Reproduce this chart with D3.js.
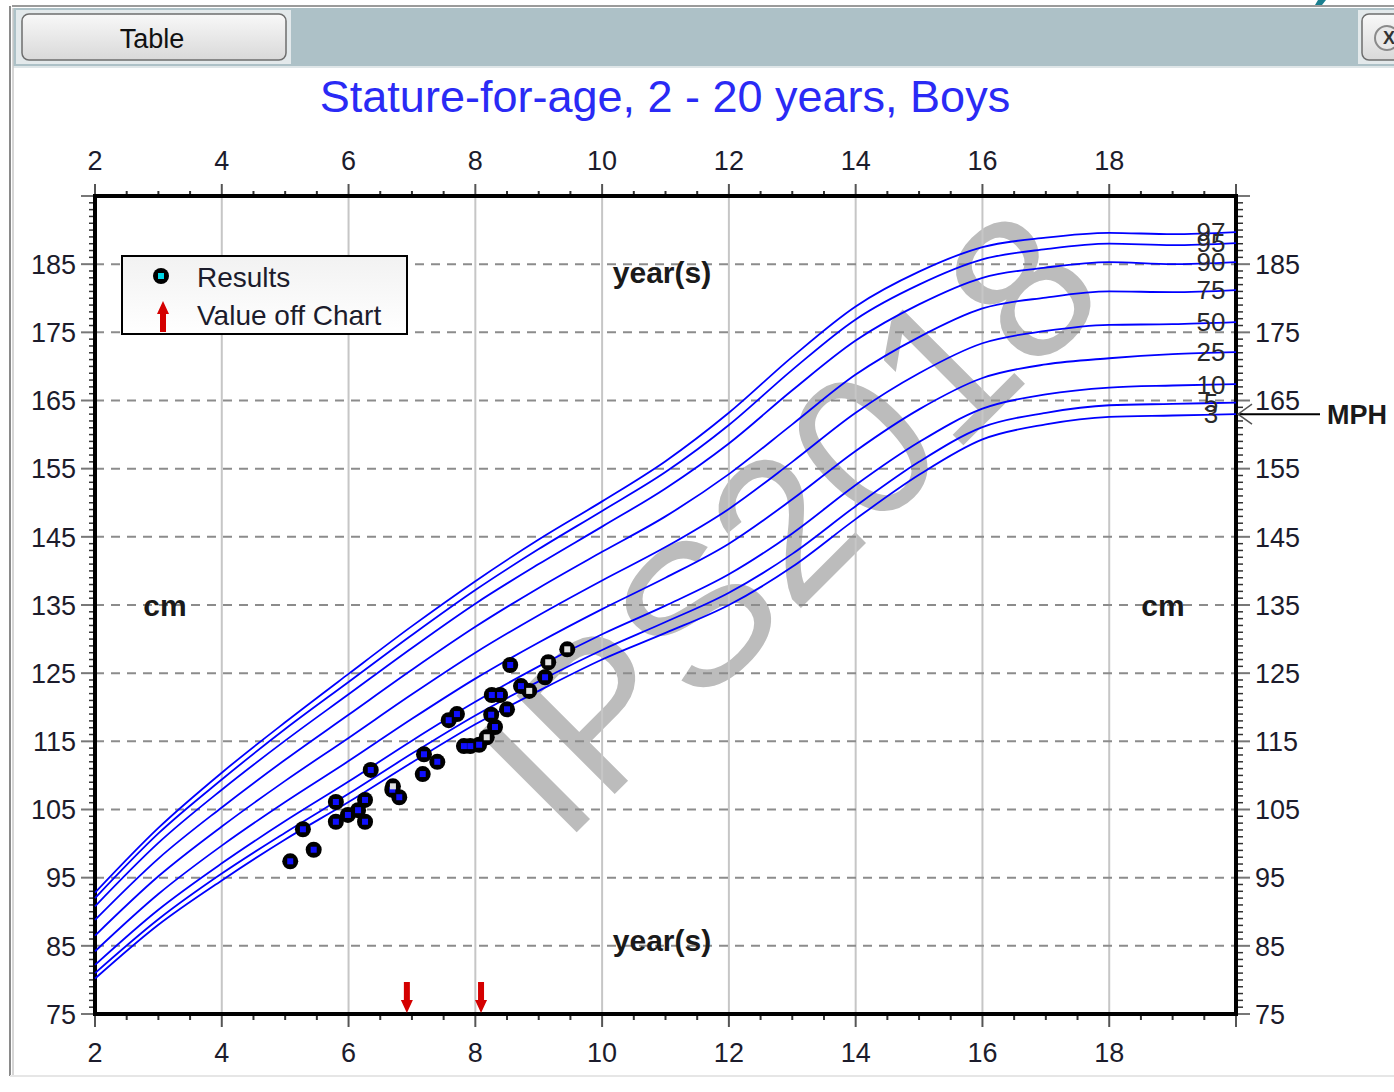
<!DOCTYPE html>
<html>
<head>
<meta charset="utf-8">
<script src="https://cdn.jsdelivr.net/npm/d3@7"></script>
<style>
  body { margin: 0; background: #fff; }
  svg { display: block; font-family: "Liberation Sans", Arial, sans-serif; }
</style>
</head>
<body>
<div class="chart"></div>
<script>
const width = 1394;
const height = 1092;

// percentile curves, CDC stature-for-age boys
const ages = [2, 3, 4, 5, 6, 7, 8, 9, 10, 11, 12, 13, 14, 15, 16, 17, 18, 19, 20];
const p3 = [80.2, 88.1, 94.6, 100.6, 106.1, 111.9, 117.5, 122.4, 127.0, 130.9, 135.0, 140.6, 147.6, 154.1, 159.3, 161.5, 162.6, 162.8, 163.0];
const p5 = [81.0, 88.9, 95.6, 101.6, 107.3, 113.2, 118.8, 123.8, 128.4, 132.5, 136.8, 142.5, 149.5, 156.0, 161.1, 163.2, 164.3, 164.5, 164.7];
const p10 = [82.2, 90.3, 97.1, 103.3, 109.1, 115.1, 120.8, 126.0, 130.7, 134.9, 139.5, 145.5, 152.6, 158.9, 163.8, 165.9, 166.9, 167.2, 167.4];
const p25 = [84.2, 92.6, 99.7, 106.1, 112.1, 118.3, 124.2, 129.5, 134.4, 139.0, 144.0, 150.5, 157.6, 163.7, 168.3, 170.3, 171.2, 171.8, 172.1];
const p50 = [86.5, 95.2, 102.5, 109.2, 115.5, 121.9, 128.0, 133.5, 138.6, 143.5, 149.1, 156.0, 163.2, 169.0, 173.4, 175.2, 176.1, 176.2, 176.5];
const p75 = [88.8, 97.8, 105.3, 112.3, 118.9, 125.5, 131.8, 137.5, 142.8, 148.0, 154.2, 161.5, 168.8, 174.3, 178.5, 180.1, 181.0, 180.9, 181.2];
const p90 = [90.8, 100.1, 107.9, 115.1, 121.9, 128.7, 135.2, 141.0, 146.5, 152.1, 158.7, 166.5, 173.8, 179.1, 183.0, 184.5, 185.3, 185.0, 185.3];
const p95 = [92.0, 101.5, 109.4, 116.8, 123.7, 130.6, 137.2, 143.2, 148.8, 154.5, 161.4, 169.5, 176.9, 182.0, 185.7, 187.2, 188.0, 187.8, 188.1];
const p97 = [92.8, 102.3, 110.4, 117.8, 124.9, 131.9, 138.5, 144.6, 150.2, 156.1, 163.2, 171.4, 178.8, 183.9, 187.5, 188.9, 189.6, 189.4, 189.7];

const percentileNames = ["3", "5", "10", "25", "50", "75", "90", "95", "97"];
const percentileSeries = [p3, p5, p10, p25, p50, p75, p90, p95, p97];

// measured results (age in years, stature in cm)
const resultAges = [5.08, 5.28, 5.45, 5.80, 5.80, 5.99, 6.15, 6.26, 6.26, 6.35, 6.69, 6.70, 6.80, 7.17, 7.19, 7.40, 7.58, 7.71, 7.82, 7.92, 8.06, 8.18, 8.31, 8.25, 8.26, 8.39, 8.50, 8.55, 8.72, 8.85, 9.10, 9.15, 9.45];
const resultHeights = [97.4, 102.1, 99.1, 106.1, 103.2, 104.2, 104.9, 106.4, 103.2, 110.8, 107.9, 108.4, 106.8, 110.2, 113.1, 112.0, 118.1, 119.0, 114.3, 114.3, 114.5, 115.6, 117.1, 118.9, 121.8, 121.8, 119.7, 126.2, 123.1, 122.4, 124.4, 126.6, 128.5];
const resultOpen = [0, 0, 0, 0, 0, 0, 0, 0, 0, 0, 0, 1, 0, 0, 0, 0, 0, 0, 0, 0, 0, 1, 0, 0, 0, 0, 0, 0, 0, 1, 0, 1, 1];

const offChartAges = [6.92, 8.09];
const mphHeight = 163.0;

const xTicks = [2, 4, 6, 8, 10, 12, 14, 16, 18];
const yTicks = [75, 85, 95, 105, 115, 125, 135, 145, 155, 165, 175, 185];

const svg = d3.select(".chart").append("svg").attr("width", width).attr("height", height);

const x = d3.scaleLinear().domain([2, 20]).range([95, 1236]);
const y = d3.scaleLinear().domain([75, 195]).range([1014, 196]);

const defs = svg.append("defs");
const btnGrad = defs.append("linearGradient").attr("id", "btnGrad").attr("x1", 0).attr("y1", 0).attr("x2", 0).attr("y2", 1);
btnGrad.append("stop").attr("offset", "0%").attr("stop-color", "#f8f8f8");
btnGrad.append("stop").attr("offset", "100%").attr("stop-color", "#d9d9d9");
const legGrad = defs.append("linearGradient").attr("id", "legGrad").attr("x1", 0).attr("y1", 0).attr("x2", 0).attr("y2", 1);
legGrad.append("stop").attr("offset", "0%").attr("stop-color", "#f2f2f2");
legGrad.append("stop").attr("offset", "100%").attr("stop-color", "#ffffff");

drawWindow();
drawWatermark();
drawGrid();
drawAxes();
drawCurves();
drawResults();
drawOffChart();
drawMph();
drawLegend();
drawLabels();

function drawWindow() {
  svg.append("line").attr("x1", 12).attr("x2", width).attr("y1", 6).attr("y2", 6)
    .attr("stroke", "#9a9a9a").attr("stroke-width", 2);
  svg.append("rect").attr("x", 13).attr("y", 8).attr("width", width - 13).attr("height", 58).attr("fill", "#adc1c7");
  svg.append("line").attr("x1", 13).attr("x2", width).attr("y1", 67).attr("y2", 67)
    .attr("stroke", "#dfe6e8").attr("stroke-width", 2);
  svg.append("path").attr("d", "M1318,0 L1326,0 L1322,5 L1315,5 Z").attr("fill", "#1a7f8f");

  // left frame
  svg.append("line").attr("x1", 10).attr("x2", 10).attr("y1", 6).attr("y2", 1076)
    .attr("stroke", "#8a8a8a").attr("stroke-width", 2);
  svg.append("line").attr("x1", 13).attr("x2", 13).attr("y1", 8).attr("y2", 1076)
    .attr("stroke", "#c8c8c8").attr("stroke-width", 1.5);
  svg.append("line").attr("x1", 10).attr("x2", width).attr("y1", 1076).attr("y2", 1076)
    .attr("stroke", "#e6e6e6").attr("stroke-width", 2);

  // Table button
  svg.append("rect").attr("x", 16).attr("y", 10).attr("width", 275).attr("height", 54).attr("fill", "#e3e9eb");
  svg.append("rect").attr("x", 22).attr("y", 14).attr("width", 264).attr("height", 46).attr("rx", 7)
    .attr("fill", "url(#btnGrad)").attr("stroke", "#6e6e6e").attr("stroke-width", 1.5);
  svg.append("text").attr("x", 152).attr("y", 38).attr("dy", "0.36em").attr("text-anchor", "middle")
    .style("font-size", "27px").attr("fill", "#111").text("Table");

  // close button (cut off at the edge)
  svg.append("rect").attr("x", 1358).attr("y", 10).attr("width", 50).attr("height", 54).attr("fill", "#e3e9eb");
  svg.append("rect").attr("x", 1362).attr("y", 14).attr("width", 50).attr("height", 46).attr("rx", 7)
    .attr("fill", "url(#btnGrad)").attr("stroke", "#6e6e6e").attr("stroke-width", 1.5);
  svg.append("circle").attr("cx", 1387).attr("cy", 38).attr("r", 12)
    .attr("fill", "#e8e8e8").attr("stroke", "#8a8a8a").attr("stroke-width", 2);
  svg.append("text").attr("x", 1389).attr("y", 38).attr("dy", "0.36em").attr("text-anchor", "middle")
    .style("font-size", "18px").style("font-weight", "bold").attr("fill", "#333").text("X");

  svg.append("text").attr("x", 665).attr("y", 112).attr("text-anchor", "middle")
    .style("font-size", "45px").attr("fill", "#2a2af5").text("Stature-for-age, 2 - 20 years, Boys");
}

function drawWatermark() {
  svg.append("text")
    .attr("transform", "translate(786,520) rotate(-45)")
    .attr("text-anchor", "middle").attr("dy", "0.36em")
    .style("font-size", "202px").attr("fill", "#bcbcbc")
    .text("IPS2018");
}

function drawGrid() {
  const g = svg.append("g");
  g.selectAll(".vgrid").data(xTicks.slice(1)).enter().append("line")
    .attr("x1", (d) => x(d)).attr("x2", (d) => x(d))
    .attr("y1", y(195)).attr("y2", y(75))
    .attr("stroke", "#c6c6c6").attr("stroke-width", 2);
  g.selectAll(".hgrid").data(yTicks.slice(1)).enter().append("line")
    .attr("x1", x(2)).attr("x2", x(20))
    .attr("y1", (d) => y(d)).attr("y2", (d) => y(d))
    .attr("stroke", "#8c8c8c").attr("stroke-width", 2).attr("stroke-dasharray", "9,7");
}

function drawAxes() {
  const g = svg.append("g").attr("fill", "none");
  const halfYears = d3.range(2, 20.01, 0.5);
  const cms = d3.range(75, 195.01, 1);

  // top and bottom ticks
  halfYears.forEach((a) => {
    let major = a % 2 == 0;
    g.append("line").attr("x1", x(a)).attr("x2", x(a))
      .attr("y1", y(195)).attr("y2", y(195) - (major ? 12 : 5))
      .attr("stroke", major ? "#555" : "#333").attr("stroke-width", 2);
    g.append("line").attr("x1", x(a)).attr("x2", x(a))
      .attr("y1", y(75)).attr("y2", y(75) + (major ? 13 : 6))
      .attr("stroke", major ? "#555" : "#333").attr("stroke-width", 2);
  });

  // left and right ticks
  cms.forEach((c) => {
    let major = (c - 75) % 10 == 0;
    g.append("line").attr("x1", x(2)).attr("x2", x(2) - (major ? 14 : 6))
      .attr("y1", y(c)).attr("y2", y(c))
      .attr("stroke", major ? "#777" : "#333").attr("stroke-width", major ? 2 : 1.5);
    g.append("line").attr("x1", x(20)).attr("x2", x(20) + (major ? 14 : 7))
      .attr("y1", y(c)).attr("y2", y(c))
      .attr("stroke", major ? "#777" : "#333").attr("stroke-width", major ? 2 : 1.5);
  });

  g.append("rect").attr("x", x(2)).attr("y", y(195))
    .attr("width", x(20) - x(2)).attr("height", y(75) - y(195))
    .attr("stroke", "#000").attr("stroke-width", 4);

  const labels = svg.append("g").style("font-size", "27px").attr("fill", "#1c1c2c");
  xTicks.forEach((a) => {
    labels.append("text").attr("x", x(a)).attr("y", 160).attr("dy", "0.36em")
      .attr("text-anchor", "middle").text(a);
    labels.append("text").attr("x", x(a)).attr("y", 1052).attr("dy", "0.36em")
      .attr("text-anchor", "middle").text(a);
  });
  yTicks.forEach((c) => {
    labels.append("text").attr("x", 76).attr("y", y(c)).attr("dy", "0.36em")
      .attr("text-anchor", "end").text(c);
    labels.append("text").attr("x", 1255).attr("y", y(c)).attr("dy", "0.36em")
      .attr("text-anchor", "start").text(c);
  });
}

function drawCurves() {
  const line = d3.line()
    .x((d) => x(d[0]))
    .y((d) => y(d[1]))
    .curve(d3.curveMonotoneX);

  percentileSeries.forEach((series, i) => {
    let pts = ages.map((a, j) => [a, series[j]]);
    svg.append("path").attr("d", line(pts))
      .attr("fill", "none").attr("stroke", "#0000ff").attr("stroke-width", 1.8);

    // the end labels crowd together at the top and bottom, as in the source chart
    svg.append("text").attr("x", 1211).attr("y", y(series[series.length - 1]))
      .attr("dy", "0.36em").attr("text-anchor", "middle")
      .style("font-size", "26px").attr("fill", "#2a2a2a")
      .text(percentileNames[i]);
  });
}

function drawResults() {
  const g = svg.append("g");
  resultAges.forEach((a, i) => {
    g.append("circle").attr("cx", x(a)).attr("cy", y(resultHeights[i])).attr("r", 8).attr("fill", "#000");
  });
  resultAges.forEach((a, i) => {
    g.append("rect").attr("x", x(a) - 3).attr("y", y(resultHeights[i]) - 3)
      .attr("width", 6).attr("height", 6)
      .attr("fill", resultOpen[i] ? "#e0e0e0" : "#1010ff");
  });
}

function arrowPath(cx, tipY, dir) {
  // dir = 1 points down, -1 points up
  let shaftEnd = tipY - dir * 13;
  let tail = tipY - dir * 31;
  return `M${cx - 3},${tail} L${cx + 3},${tail} L${cx + 3},${shaftEnd} L${cx + 6},${shaftEnd} ` +
    `L${cx},${tipY} L${cx - 6},${shaftEnd} L${cx - 3},${shaftEnd} Z`;
}

function drawOffChart() {
  offChartAges.forEach((a) => {
    svg.append("path").attr("d", arrowPath(x(a), y(75) - 1, 1)).attr("fill", "#d40000");
  });
}

function drawMph() {
  let my = y(mphHeight);
  svg.append("line").attr("x1", x(20) + 2).attr("x2", 1320).attr("y1", my).attr("y2", my)
    .attr("stroke", "#000").attr("stroke-width", 2);
  svg.append("path").attr("d", `M${x(20) + 16},${my - 10} L${x(20) + 2},${my} L${x(20) + 16},${my + 10}`)
    .attr("fill", "none").attr("stroke", "#555").attr("stroke-width", 1.5);
  svg.append("text").attr("x", 1327).attr("y", my).attr("dy", "0.36em")
    .style("font-size", "27px").style("font-weight", "bold").attr("fill", "#1a1a1a").text("MPH");
}

function drawLegend() {
  const g = svg.append("g");
  g.append("rect").attr("x", 122).attr("y", 256).attr("width", 285).attr("height", 78)
    .attr("fill", "url(#legGrad)").attr("stroke", "#000").attr("stroke-width", 2);
  g.append("circle").attr("cx", 161).attr("cy", 276).attr("r", 8).attr("fill", "#000");
  g.append("rect").attr("x", 158).attr("y", 273).attr("width", 6).attr("height", 6).attr("fill", "#00d8e8");
  g.append("path").attr("d", arrowPath(163, 301, -1)).attr("fill", "#d40000");
  g.append("text").attr("x", 197).attr("y", 277).attr("dy", "0.36em")
    .style("font-size", "28px").attr("fill", "#1c1c2c").text("Results");
  g.append("text").attr("x", 197).attr("y", 315).attr("dy", "0.36em")
    .style("font-size", "28px").attr("fill", "#1c1c2c").text("Value off Chart");
}

function drawLabels() {
  const g = svg.append("g").style("font-size", "30px").style("font-weight", "bold").attr("fill", "#1a1a1a");
  g.append("text").attr("x", 662).attr("y", 272).attr("dy", "0.36em").attr("text-anchor", "middle").text("year(s)");
  g.append("text").attr("x", 662).attr("y", 940).attr("dy", "0.36em").attr("text-anchor", "middle").text("year(s)");
  g.append("text").attr("x", 165).attr("y", 605).attr("dy", "0.36em").attr("text-anchor", "middle").text("cm");
  g.append("text").attr("x", 1163).attr("y", 605).attr("dy", "0.36em").attr("text-anchor", "middle").text("cm");
}
</script>
</body>
</html>
